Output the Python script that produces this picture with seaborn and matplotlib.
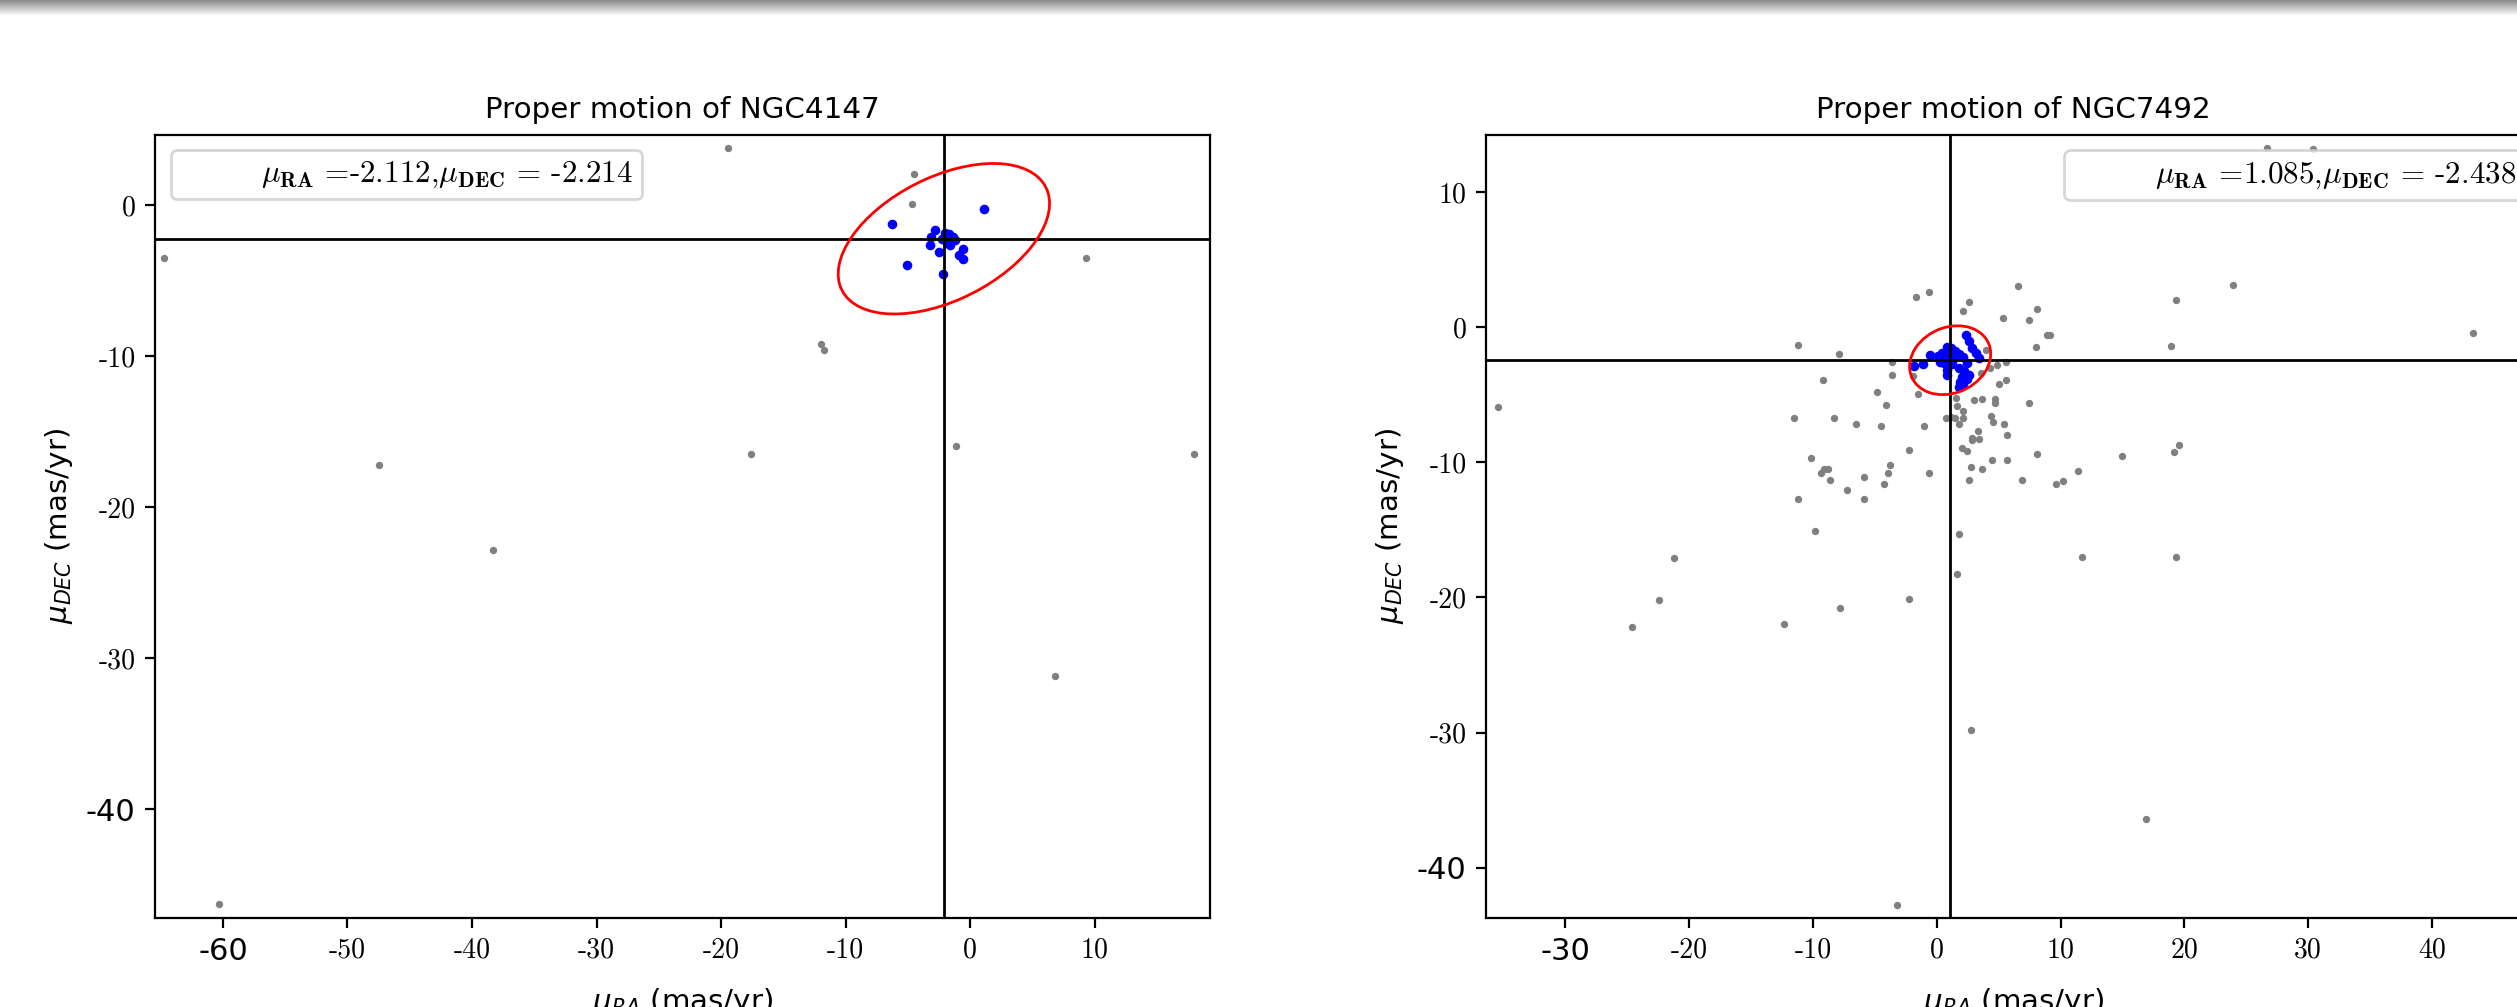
import matplotlib
matplotlib.use("Agg")
import matplotlib.pyplot as plt
from matplotlib.patches import Ellipse
from matplotlib.font_manager import FontProperties
import seaborn as sns
import numpy as np
import pandas as pd

# ---- NGC4147 ----
n4147_field_ra = [-64.7, -60.3, -47.5, -38.3, -19.45, -17.6, -12.0, -11.7, -4.55, -4.7, -1.16, 6.8, 9.3, 18.0]
n4147_field_dec = [-3.5, -46.3, -17.2, -22.8, 3.8, -16.5, -9.2, -9.6, 2.07, 0.07, -15.95, -31.2, -3.5, -16.5]
n4147_memb_ra = [1.11, -6.27, -5.07, -2.15, -2.86, -3.17, -3.23, -2.52, -2.0, -1.69, -1.38, -1.2, -2.3,
                 -1.84, -0.61, -0.92, -0.61, -1.6]
n4147_memb_dec = [-0.22, -1.23, -3.98, -4.54, -1.64, -2.09, -2.65, -3.08, -1.86, -1.91, -2.07, -2.29, -2.24,
                  -2.47, -2.92, -3.26, -3.53, -2.65]
n4147_mean = (-2.112, -2.214)
n4147_ellipse = (17.8, 8.4, 20.0)  # width, height, angle

# ---- NGC7492 ----
n7492_field_ra = [26.7, 30.4, 23.9, 19.3, 43.3, 18.9,
                  6.55, -1.71, -0.65, 2.11, 2.61, 8.13, 5.37, 7.45, 8.94, 9.19, 7.98, 3.97,
                  -11.21, -7.92, -3.64, -3.64, -9.16, -1.52, -4.82, -4.13,
                  4.28, 4.84, 5.59, 3.6, 5.06, 5.59,
                  2.98, 3.66, 4.69, 4.69, 7.45,
                  1.58, 1.64, 2.11, 2.11, 0.71, 1.18, 1.49, 1.8,
                  4.38, 4.53, 5.4, 3.32, 2.82, 2.82, 3.44, 5.71,
                  2.08, 2.42, -0.99, -4.47, -6.55, -8.26, -11.55,
                  -2.21, 4.47, 5.71, 8.13, 2.79, 3.66, 2.64, 6.92,
                  -0.65, -3.76, -3.95, -4.29, -5.87, -5.87, -7.24,
                  -10.19, -9.38, -9.07, -8.82, -8.6, -11.21, -9.85,
                  9.66, 10.19, 11.43, 1.78, -21.2, 11.75, 19.33, 1.6, -2.2, -22.4, -35.4,
                  -24.6, -12.3, -7.8, 2.8, 16.9, -3.2,
                  15.0, 19.2, 19.6, -1.9]
n7492_field_dec = [13.3, 13.2, 3.1, 2.0, -0.4, -1.4,
                   3.09, 2.25, 2.62, 1.19, 1.86, 1.36, 0.72, 0.55, -0.54, -0.54, -1.48, -1.65,
                   -1.33, -1.97, -2.59, -3.53, -3.87, -4.93, -4.79, -5.72,
                   -3.01, -2.76, -2.59, -3.38, -4.19, -3.87,
                   -5.4, -5.3, -5.28, -5.6, -5.6,
                   -5.23, -5.85, -6.22, -6.71, -6.71, -6.66, -6.71, -7.16,
                   -6.54, -7.01, -7.16, -7.65, -8.19, -8.32, -8.27, -7.95,
                   -8.93, -9.18, -7.33, -7.33, -7.16, -6.71, -6.71,
                   -9.06, -9.85, -9.85, -9.38, -10.32, -10.46, -11.28, -11.28,
                   -10.79, -10.17, -10.79, -11.6, -11.11, -12.69, -12.04,
                   -9.67, -10.79, -10.49, -10.49, -11.28, -12.69, -15.06,
                   -11.58, -11.4, -10.61, -15.3, -17.1, -17.0, -17.0, -18.3, -20.15, -20.17, -5.9,
                   -22.2, -22.0, -20.8, -29.8, -36.4, -42.8,
                   -9.5, -9.2, -8.7, -3.6]
n7492_memb_ra = [2.35, 2.62, 2.89, 3.16, 3.38, -0.53, -1.07, -1.8, 0.41, 0.82, 1.17, 1.44, 0.68, 1.09,
                 1.54, 1.81, 0.55, 1.27, 0.82, 0.28, 0.14, 1.76, 2.24, 2.57, 2.03, 2.43, 1.89, 2.16,
                 1.76, 0.82, 2.43, 2.16, 0.95, 1.36]
n7492_memb_dec = [-0.54, -1.03, -1.52, -1.9, -2.27, -2.02, -2.71, -2.88, -1.9, -1.47, -1.57, -1.77, -2.27,
                  -2.39, -2.14, -1.97, -2.64, -2.71, -3.13, -2.56, -2.14, -3.01, -3.25, -3.5, -3.7, -3.8,
                  -4.04, -4.19, -4.44, -3.5, -2.64, -2.22, -1.9, -2.27]
n7492_mean = (1.085, -2.438)
n7492_ellipse = (6.7, 4.9, 18.0)

clusters = [
    ("NGC4147", n4147_field_ra, n4147_field_dec, n4147_memb_ra, n4147_memb_dec, n4147_mean, n4147_ellipse,
     (-65.45, 19.25), (-47.2, 4.66), list(range(-60, 11, 10)), list(range(-40, 1, 10)), "upper left"),
    ("NGC7492", n7492_field_ra, n7492_field_dec, n7492_memb_ra, n7492_memb_dec, n7492_mean, n7492_ellipse,
     (-36.4, 48.8), (-43.73, 14.24), list(range(-30, 41, 10)), list(range(-40, 11, 10)), "upper right"),
]

sns.set_style("ticks", {"axes.edgecolor": "black", "xtick.color": "black", "ytick.color": "black",
                        "text.color": "black", "axes.labelcolor": "black"})
plt.rcParams['font.family'] = ['DejaVu Sans']
plt.rcParams['font.size'] = 10

fig = plt.figure(figsize=(12.585, 5.035), dpi=200)
positions = [[0.0616, 0.0884, 0.4191, 0.7776], [0.5904, 0.0884, 0.4191, 0.7776]]

legend_font = FontProperties(family='cmr10', size=11.2, math_fontfamily='cm')

for pos, (name, fra, fdec, mra, mdec, mean, ell, xlim, ylim, xt, yt, loc) in zip(positions, clusters):
    ax = fig.add_axes(pos)
    field = pd.DataFrame({"ra": fra, "dec": fdec})
    memb = pd.DataFrame({"ra": mra, "dec": mdec})
    sns.scatterplot(data=field, x="ra", y="dec", ax=ax, color="gray", s=7, linewidth=0, zorder=2)
    sns.scatterplot(data=memb, x="ra", y="dec", ax=ax, color="blue", s=12, linewidth=0, zorder=3)
    ax.axvline(mean[0], color="black", lw=1.0, zorder=4)
    ax.axhline(mean[1], color="black", lw=1.0, zorder=4)
    ax.add_patch(Ellipse(mean, ell[0], ell[1], angle=ell[2], fill=False, edgecolor="red", lw=1.0, zorder=5))

    txt = r"$\mu_{\mathbf{RA}}$ =" + f"{mean[0]:.3f}" + r",$\mu_{\mathbf{DEC}}$ = " + f"{mean[1]:.3f}"
    h, = ax.plot([], [], " ", label=txt)
    ax.legend(handles=[h], loc=loc, prop=legend_font, borderpad=0.3, handlelength=1.8)

    ax.set_xlim(*xlim)
    ax.set_ylim(*ylim)
    ax.set_xticks(xt)
    ax.set_xticklabels([str(v) for v in xt])
    ax.set_yticks(yt)
    ax.set_yticklabels([str(v) for v in yt])
    for lbls in (ax.get_xticklabels(), ax.get_yticklabels()):
        for i, t in enumerate(lbls):
            if i == 0:
                t.set_fontfamily("DejaVu Sans")
                t.set_fontsize(11)
            else:
                t.set_fontfamily("cmr10")
                t.set_fontsize(10)
    ax.tick_params(direction="out", length=3.5, width=0.8)
    for sp in ax.spines.values():
        sp.set_linewidth(0.8)
        sp.set_visible(True)

    ax.set_title(f"Proper motion of {name}", fontsize=10.6)
    ax.set_xlabel(r"$\mu_{RA}$ (mas/yr)", fontsize=10.6, labelpad=7)
    ax.set_ylabel(r"$\mu_{DEC}$ (mas/yr)", fontsize=10.6)

# screenshot shadow band at the top
band = fig.add_axes([0, 1 - 16 / 1007, 1, 16 / 1007])
grad = np.linspace(0.55, 1.0, 32)[:, None]
band.imshow(grad, cmap="gray", vmin=0, vmax=1, aspect="auto")
band.axis("off")

fig.savefig("out.png", dpi=200)
